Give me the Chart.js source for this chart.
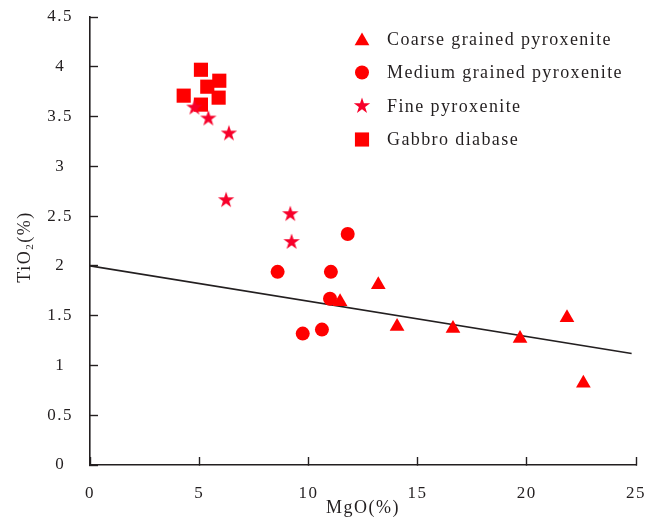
<!DOCTYPE html>
<html>
<head>
<meta charset="utf-8">
<script src="https://cdn.jsdelivr.net/npm/chart.js@4.4.1/dist/chart.umd.min.js"></script>
<style>
  html, body { margin: 0; padding: 0; background: #fff; }
  #wrap { width: 650px; height: 525px; }
</style>
</head>
<body>
<div id="wrap"><canvas id="mgoTio2Chart"></canvas></div>
<script>
// MgO vs TiO2 (wt%) by rock type
const seriesLabels = ["Coarse grained pyroxenite", "Medium grained pyroxenite", "Fine pyroxenite", "Gabbro diabase"];

const coarseMgO = [11.45, 13.2, 14.06, 16.62, 19.69, 21.84, 22.59];
const coarseTiO2 = [1.64, 1.81, 1.39, 1.37, 1.27, 1.48, 0.82];

const mediumMgO = [8.59, 11.03, 10.99, 9.74, 10.62, 11.8];
const mediumTiO2 = [1.94, 1.94, 1.67, 1.32, 1.36, 2.32];

const fineMgO = [4.78, 5.42, 6.36, 6.23, 9.17, 9.23];
const fineTiO2 = [3.59, 3.48, 3.33, 2.66, 2.52, 2.24];

const gabbroMgO = [5.08, 5.92, 5.37, 4.29, 5.89, 5.08];
const gabbroTiO2 = [3.97, 3.86, 3.80, 3.71, 3.69, 3.62];

// trend line end points
const trendMgO = [0, 24.8];
const trendTiO2 = [2.0, 1.12];

const xTicks = [0, 5, 10, 15, 20, 25];
const yTicks = [0, 0.5, 1, 1.5, 2, 2.5, 3, 3.5, 4, 4.5];

const RED = "#ff0000";
const STAR_RED = "#f7002a";
const INK = "#231f20";
const SERIF = '"Liberation Serif", "Times New Roman", serif';

function toPoints(xs, ys) {
  return xs.map((x, i) => ({ x: x, y: ys[i] }));
}

// filled five-point star used as a point style
function makeStar(r, color) {
  const c = document.createElement("canvas");
  const size = Math.ceil(r * 2 + 2);
  c.width = size;
  c.height = size;
  const g = c.getContext("2d");
  const cx = size / 2, cy = size / 2, inner = r * 0.382;
  g.beginPath();
  for (let i = 0; i < 10; i++) {
    const rad = i % 2 ? inner : r;
    const a = -Math.PI / 2 + (i * Math.PI) / 5;
    g.lineTo(cx + rad * Math.cos(a), cy + rad * Math.sin(a));
  }
  g.closePath();
  g.fillStyle = color;
  g.fill();
  return c;
}
const starStyle = makeStar(8.6, STAR_RED);

// slightly wider letter spacing for all canvas text
const spacingPlugin = {
  id: "spacing",
  beforeUpdate(chart) { chart.ctx.letterSpacing = "1.5px"; },
  beforeDraw(chart) { chart.ctx.letterSpacing = "1.5px"; },
};

// legend drawn inside the plot, top right
const legendPlugin = {
  id: "insideLegend",
  afterDraw(chart, args, opts) {
    const ctx = chart.ctx;
    ctx.save();
    ctx.letterSpacing = "1.4px";
    ctx.font = "18px " + SERIF;
    ctx.textBaseline = "middle";
    ctx.textAlign = "left";
    let row = 0;
    chart.data.datasets.forEach((ds) => {
      if (!ds.label) return;
      const y = opts.top + row * opts.gap;
      ctx.fillStyle = ds.backgroundColor;
      Chart.helpers.drawPoint(ctx, {
        pointStyle: ds.pointStyle,
        radius: ds.pointRadius,
        rotation: 0,
        borderWidth: 0,
      }, opts.markerX, y + (ds.pointStyle === "triangle" ? 2 : 0));
      ctx.fillStyle = INK;
      ctx.fillText(ds.label, opts.textX, y + 1);
      row++;
    });
    ctx.restore();
  },
};

// y axis title with a real subscript
const yTitlePlugin = {
  id: "yTitle",
  afterDraw(chart, args, opts) {
    const ctx = chart.ctx;
    const parts = [["TiO", 18, 0], ["2", 11, 3], ["(%)", 18, 0]];
    ctx.save();
    ctx.letterSpacing = "1.5px";
    ctx.fillStyle = INK;
    ctx.textBaseline = "alphabetic";
    ctx.textAlign = "left";
    let total = 0;
    parts.forEach((p) => { ctx.font = p[1] + "px " + SERIF; total += ctx.measureText(p[0]).width; });
    ctx.translate(opts.x, opts.y);
    ctx.rotate(-Math.PI / 2);
    let pos = -total / 2;
    parts.forEach((p) => {
      ctx.font = p[1] + "px " + SERIF;
      ctx.fillText(p[0], pos, p[2]);
      pos += ctx.measureText(p[0]).width;
    });
    ctx.restore();
  },
};

new Chart(document.getElementById("mgoTio2Chart"), {
  type: "scatter",
  data: {
    datasets: [
      {
        label: seriesLabels[0],
        data: toPoints(coarseMgO, coarseTiO2),
        pointStyle: "triangle",
        pointRadius: 8.5,
        backgroundColor: RED,
        borderWidth: 0,
      },
      {
        label: seriesLabels[1],
        data: toPoints(mediumMgO, mediumTiO2),
        pointStyle: "circle",
        pointRadius: 7,
        backgroundColor: RED,
        borderWidth: 0,
      },
      {
        label: seriesLabels[2],
        data: toPoints(fineMgO, fineTiO2),
        pointStyle: starStyle,
        pointRadius: 8.6,
        backgroundColor: STAR_RED,
        borderWidth: 0,
      },
      {
        label: seriesLabels[3],
        data: toPoints(gabbroMgO, gabbroTiO2),
        pointStyle: "rect",
        pointRadius: 10,
        backgroundColor: RED,
        borderWidth: 0,
      },
      {
        // regression line, drawn underneath the markers
        data: toPoints(trendMgO, trendTiO2),
        showLine: true,
        pointRadius: 0,
        borderColor: INK,
        borderWidth: 1.6,
        fill: false,
      },
    ],
  },
  options: {
    responsive: true,
    maintainAspectRatio: false,
    animation: false,
    events: [],
    layout: { padding: { left: 0, right: 14, top: 17, bottom: 0 } },
    plugins: {
      legend: { display: false },
      tooltip: { enabled: false },
      insideLegend: { top: 39, gap: 33.5, markerX: 362, textX: 387 },
      yTitle: { x: 30, y: 247 },
    },
    scales: {
      x: {
        type: "linear",
        min: 0,
        max: 25,
        afterFit: (s) => { s.height = 60; s.paddingLeft = 0; s.paddingRight = 0; },
        afterBuildTicks: (s) => { s.ticks = xTicks.map((v) => ({ value: v })); },
        border: { display: true, color: INK, width: 1.6 },
        grid: { drawOnChartArea: false, tickLength: -8, tickColor: INK, tickWidth: 1.4 },
        ticks: {
          padding: 26,
          color: INK,
          font: { family: SERIF, size: 17 },
          callback: (v) => String(v),
        },
        title: {
          display: true,
          text: "MgO(%)",
          color: INK,
          font: { family: SERIF, size: 18 },
          padding: { top: 0, bottom: 6 },
        },
      },
      y: {
        type: "linear",
        min: 0,
        max: 4.5,
        afterFit: (s) => { s.width = 90; s.paddingTop = 0; s.paddingBottom = 0; },
        afterBuildTicks: (s) => { s.ticks = yTicks.map((v) => ({ value: v })); },
        border: { display: true, color: INK, width: 1.6 },
        grid: { drawOnChartArea: false, tickLength: -8, tickColor: INK, tickWidth: 1.4 },
        ticks: {
          padding: 25,
          crossAlign: "center",
          color: INK,
          font: { family: SERIF, size: 17 },
          callback: (v) => String(v),
        },
      },
    },
  },
  plugins: [spacingPlugin, legendPlugin, yTitlePlugin],
});
</script>
</body>
</html>
